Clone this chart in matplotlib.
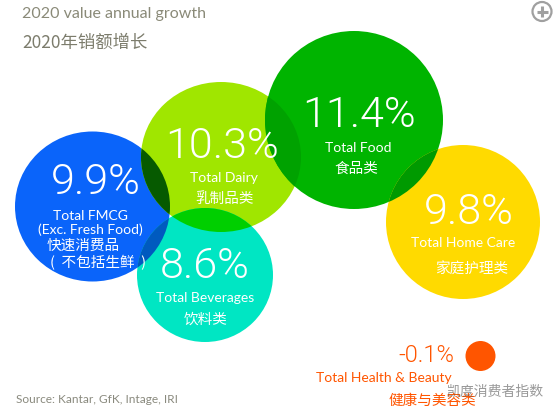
import matplotlib
matplotlib.use("Agg")
import matplotlib.pyplot as plt
from matplotlib.patches import Ellipse, Circle
import numpy as np

# ---- data ----
labels_en = ["Total FMCG\n(Exc. Fresh Food)", "Total Dairy", "Total Food",
             "Total Home Care", "Total Beverages", "Total Health & Beauty"]
labels_zh = ["快速消费品", "乳制品类", "食品类", "家庭护理类", "饮料类", "健康与美容类"]
growth = [9.9, 10.3, 11.4, 9.8, 8.6, -0.1]
title_en = "2020 value annual growth"
title_zh = "2020年销额增长"
source = "Source: Kantar, GfK, Intage, IRI"

# ---- layout / style ----
colors = ["#0A64FA", "#A0E600", "#00B400", "#FFDA00", "#00E6C3", "#FF5500"]
centers = [(92.5, 206.5), (221, 157), (354, 120), (463, 222), (205, 275), (480.5, 356)]
widths = [155, 160, 178, 154, 136, 30]
heights = [150, 150, 178, 154, 134, 30]

LAT = ["Lato", "Noto Sans CJK SC", "DejaVu Sans"]
NUM = ["Roboto", "DejaVu Sans"]
CJK = ["Noto Sans CJK SC", "DejaVu Sans"]

fig = plt.figure(figsize=(5.6, 4.17), dpi=100)
ax = fig.add_axes([0, 0, 1, 1])
ax.set_xlim(0, 560)
ax.set_ylim(417, 0)
ax.axis("off")

def to_rgb(c):
    return np.array(matplotlib.colors.to_rgb(c))

for c, (x, y), w, h in zip(colors, centers, widths, heights):
    ax.add_patch(Ellipse((x, y), w, h, facecolor=c, edgecolor="none", zorder=1))

# multiply-blend overlaps
n = len(colors)
for i in range(n):
    for j in range(i + 1, n):
        (xi, yi), (xj, yj) = centers[i], centers[j]
        d = np.hypot(xi - xj, yi - yj)
        ri = (widths[i] + heights[i]) / 4
        rj = (widths[j] + heights[j]) / 4
        if d < ri + rj:
            mc = to_rgb(colors[i]) * to_rgb(colors[j])
            clip = Ellipse(centers[i], widths[i], heights[i], transform=ax.transData)
            e = Ellipse(centers[j], widths[j], heights[j], facecolor=mc,
                        edgecolor="none", zorder=2)
            ax.add_patch(e)
            e.set_clip_path(clip)

# ---- texts ----
num_pos = [(96, 182.5), (222.5, 146), (358.5, 115), (469, 212), (205, 266), (426, 356)]
en_pos = [(90, 223), (224, 178), (358, 147.5), (463, 243), (205.5, 298), (384, 377.5)]
zh_pos = [(83.5, 245.5), (224.5, 199), (356, 168.5), (472, 270), (205.5, 320), (432.5, 400.5)]
txt_col = ["white"] * 5 + ["#FF5500"]
num_size = [31, 31, 31, 31, 31, 17]

for k in range(n):
    ax.text(*num_pos[k], f"{growth[k]:.1f}%", ha="center", va="center",
            fontsize=num_size[k], color=txt_col[k], family=NUM, fontweight=300, zorder=5)
    ax.text(*en_pos[k], labels_en[k], ha="center", va="center", fontsize=10,
            color=txt_col[k], family=LAT, linespacing=1.15, zorder=5)
    ax.text(*zh_pos[k], labels_zh[k], ha="center", va="center", fontsize=10.5,
            color=txt_col[k], family=CJK, zorder=5)

ax.text(98, 262.5, "(  不包括生鲜  )", ha="center", va="center", fontsize=10.5,
        color="white", family=CJK, zorder=5)

ax.text(22, 14, title_en, ha="left", va="center", fontsize=11.5, color="#8A8A78", family=LAT)
ax.text(22, 42.5, title_zh, ha="left", va="center", fontsize=12.5, color="#7C7C6C", family=CJK)
ax.text(16, 399.5, source, ha="left", va="center", fontsize=8.6, color="#8A8A7E", family=LAT)

# plus icon
ax.add_patch(Circle((542, 11.5), 9.5, facecolor="none", edgecolor="#A0A0A0", lw=1.6))
ax.plot([536.5, 547.5], [11.5, 11.5], color="#A0A0A0", lw=2.2, solid_capstyle="butt")
ax.plot([542, 542], [6, 17], color="#A0A0A0", lw=2.2, solid_capstyle="butt")

# watermark
ax.text(495.5, 391.5, "凯度消费者指数", ha="center", va="center", fontsize=10,
        color="#555555", alpha=0.6, family=CJK, zorder=6)

fig.savefig("out.png", dpi=100)
